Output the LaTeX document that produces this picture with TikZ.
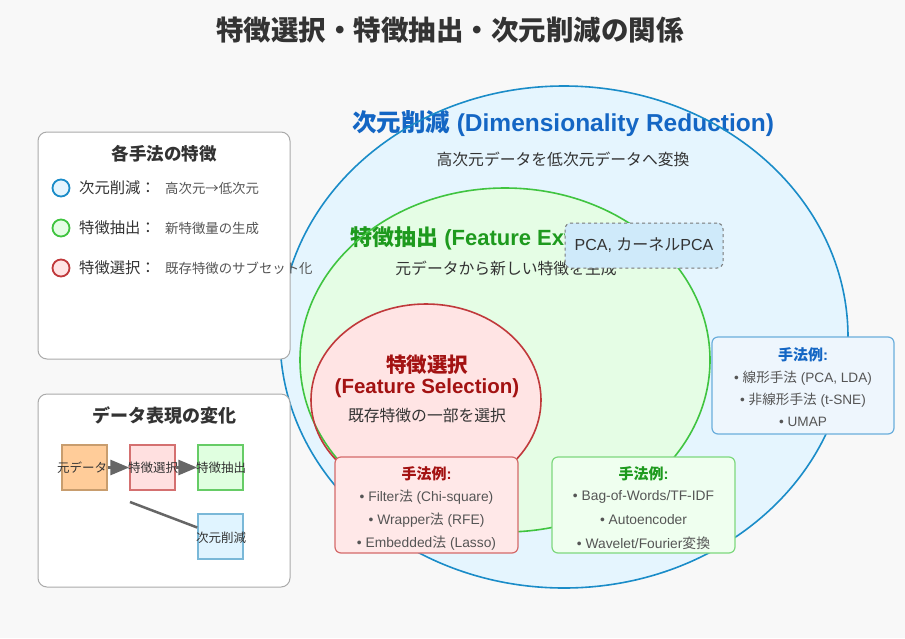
\documentclass[tikz,border=0pt]{standalone}
\usepackage{fontspec}
\setmainfont{Noto Sans CJK JP}
\newfontfamily\lat{Liberation Sans}
\usetikzlibrary{arrows.meta}
\definecolor{bg}{HTML}{F8F8F8}
\definecolor{titlec}{HTML}{333333}
\definecolor{dark}{HTML}{333333}
\definecolor{graytext}{HTML}{555555}
\definecolor{bluestroke}{HTML}{1A8CC8}
\definecolor{bluefill}{HTML}{E5F5FE}
\definecolor{greenstroke}{HTML}{40C440}
\definecolor{greenfill}{HTML}{E5FDE5}
\definecolor{redstroke}{HTML}{C0393B}
\definecolor{redfill}{HTML}{FFE4E4}
\definecolor{bluetitle}{HTML}{1466C4}
\definecolor{greentitle}{HTML}{1E9A1E}
\definecolor{redtitle}{HTML}{A31212}
\definecolor{pcafill}{HTML}{CFEAFA}
\definecolor{pcaborder}{HTML}{777777}
\definecolor{bboxfill}{HTML}{EEF6FD}
\definecolor{bboxborder}{HTML}{6AAEDC}
\definecolor{rboxfill}{HTML}{FFE8E8}
\definecolor{rboxborder}{HTML}{D46A6A}
\definecolor{gboxfill}{HTML}{EFFFEF}
\definecolor{gboxborder}{HTML}{7ED87E}
\definecolor{panelborder}{HTML}{AAAAAA}
\definecolor{orfill}{HTML}{FFCC99}
\definecolor{orborder}{HTML}{C89D6E}
\definecolor{sredfill}{HTML}{FFE0E0}
\definecolor{sredborder}{HTML}{D47070}
\definecolor{sgreenfill}{HTML}{E0FFE0}
\definecolor{sgreenborder}{HTML}{66CC66}
\definecolor{sbluefill}{HTML}{E0F4FF}
\definecolor{sblueborder}{HTML}{7AB8D8}
\definecolor{arrowc}{HTML}{666666}
\tikzset{
  txt/.style={inner sep=0pt, anchor=center},
  fs/.style={font=\fontsize{#1}{#1}\selectfont},
  fsb/.style={font=\bfseries\fontsize{#1}{#1}\selectfont},
  panel/.style={draw=panelborder, fill=white, rounded corners=9pt, line width=1pt, inner sep=0pt},
  exbox/.style={rounded corners=6pt, line width=1.2pt, inner sep=0pt, minimum width=183pt, minimum height=96pt},
  smallbox/.style={line width=1.5pt, inner sep=0pt, minimum width=45pt, minimum height=45pt},
  legcircle/.style={circle, line width=1.8pt, inner sep=0pt, minimum size=17pt},
  flowarrow/.style={draw=arrowc, line width=3pt, -{Triangle[length=19pt,width=15pt]}},
}
\begin{document}
\begin{tikzpicture}[x=1pt,y=-1pt]
\fill[bg] (0,0) rectangle (905,638);
\useasboundingbox (0,0) rectangle (905,638);

% title
\node[txt, fsb=27.5, text=titlec] (title) at (450,30) {特徴選択・特徴抽出・次元削減の関係};

% ellipse fills
\fill[bluefill] (564,337) ellipse [x radius=284, y radius=251];
\fill[greenfill] (505,360) ellipse [x radius=205, y radius=172];
\fill[redfill] (426,400) ellipse [x radius=115, y radius=96];

% ellipse texts
\node[txt, fsb=24.5, text=bluetitle] (drT) at (563,124) {次元削減{\lat\ (Dimensionality Reduction)}};
\node[txt, fs=15.8, text=dark] (drS) at (563,159) {高次元データを低次元データへ変換};
\node[txt, fsb=22, anchor=west, text=greentitle] (feT) at (350,238) {特徴抽出{\lat\ (Feature Extraction)}};
\node[txt, fs=15.8, text=dark] (feS) at (506,268) {元データから新しい特徴を生成};
\node[txt, fsb=20.5, text=redtitle] (fsT1) at (427,365) {特徴選択};
\node[txt, fsb=20.5, text=redtitle] (fsT2) at (427,388) {\lat (Feature Selection)};
\node[txt, fs=15.8, text=dark] (fsS) at (427,416) {既存特徴の一部を選択};

% ellipse strokes
\draw[bluestroke, line width=1.6pt] (564,337) ellipse [x radius=284, y radius=251];
\draw[greenstroke, line width=1.6pt] (505,360) ellipse [x radius=205, y radius=172];
\draw[redstroke, line width=1.6pt] (426,400) ellipse [x radius=115, y radius=96];

% PCA box
\node[draw=pcaborder, dashed, fill=pcafill, rounded corners=6pt, line width=1pt, inner sep=0pt,
      minimum width=158pt, minimum height=45pt] (pca) at (644,245.5) {};
\node[txt, fs=16, text=dark] (pcaT) at (pca.center) {{\lat PCA, }カーネル{\lat PCA}};

% example boxes
\node[exbox, draw=bboxborder, fill=bboxfill, minimum width=182pt, minimum height=97pt] (bex) at (803,385.5) {};
\node[txt, fsb=15, text=bluetitle] (bexT) at (803,355) {手法例{\lat :}};
\node[txt, fs=13.6, text=graytext] (bex1) at (803,378) {{\lat • }線形手法{\lat\ (PCA, LDA)}};
\node[txt, fs=13.6, text=graytext] (bex2) at (803,400) {{\lat • }非線形手法{\lat\ (t-SNE)}};
\node[txt, fs=13.6, text=graytext] (bex3) at (803,422) {\lat • UMAP};

\node[exbox, draw=rboxborder, fill=rboxfill] (rex) at (426.5,505) {};
\node[txt, fsb=15, text=redtitle] (rexT) at (426.5,474) {手法例{\lat :}};
\node[txt, fs=13.8, text=graytext] (rex1) at (426.5,497) {{\lat • Filter}法{\lat\ (Chi-square)}};
\node[txt, fs=13.8, text=graytext] (rex2) at (426.5,520) {{\lat • Wrapper}法{\lat\ (RFE)}};
\node[txt, fs=13.8, text=graytext] (rex3) at (426.5,543) {{\lat • Embedded}法{\lat\ (Lasso)}};

\node[exbox, draw=gboxborder, fill=gboxfill] (gex) at (643.5,505) {};
\node[txt, fsb=15, text=greentitle] (gexT) at (643.5,474) {手法例{\lat :}};
\node[txt, fs=13.8, text=graytext] (gex1) at (643.5,497) {\lat • Bag-of-Words/TF-IDF};
\node[txt, fs=13.8, text=graytext] (gex2) at (643.5,520) {\lat • Autoencoder};
\node[txt, fs=13.8, text=graytext] (gex3) at (643.5,543) {{\lat • Wavelet/Fourier}変換};

% legend panel
\node[panel, minimum width=252pt, minimum height=227pt] (leg) at (164,245.5) {};
\node[txt, fsb=17.5, text=titlec] (legT) at (164,154) {各手法の特徴};
\node[legcircle, draw=bluestroke, fill=bluefill] (c1) at (61,188) {};
\node[legcircle, draw=greenstroke, fill=greenfill] (c2) at (61,228) {};
\node[legcircle, draw=redstroke, fill=redfill] (c3) at (61,268) {};
\node[txt, anchor=west, fs=15.3, text=dark] (l1) at (79,188) {次元削減：};
\node[txt, anchor=west, fs=15.3, text=dark] (l2) at (79,228) {特徴抽出：};
\node[txt, anchor=west, fs=15.3, text=dark] (l3) at (79,268) {特徴選択：};
\node[txt, anchor=west, fs=13.4, text=graytext] (d1) at (165,188) {高次元→低次元};
\node[txt, anchor=west, fs=13.4, text=graytext] (d2) at (165,228) {新特徴量の生成};
\node[txt, anchor=west, fs=13.4, text=graytext] (d3) at (165,268) {既存特徴のサブセット化};

% data representation panel
\node[panel, minimum width=252pt, minimum height=193pt] (dp) at (164,490.5) {};
\node[txt, fsb=18, text=titlec] (dpT) at (164,416) {データ表現の変化};
\node[smallbox, draw=orborder, fill=orfill] (bo) at (84.5,467.5) {};
\node[smallbox, draw=sredborder, fill=sredfill] (bs) at (152.5,467.5) {};
\node[smallbox, draw=sgreenborder, fill=sgreenfill] (be) at (220.5,467.5) {};
\node[smallbox, draw=sblueborder, fill=sbluefill] (bd) at (220.5,536.5) {};
\node[txt, fs=12.5, text=dark] (boT) at (82,467.5) {元データ};
\node[txt, fs=12.5, text=dark] (bsT) at (153,467.5) {特徴選択};
\node[txt, fs=12.5, text=dark] (beT) at (221,467.5) {特徴抽出};
\node[txt, fs=12.5, text=dark] (bdT) at (221,537.5) {次元削減};
\draw[flowarrow] (bo.east) -- (bs.west);
\draw[flowarrow] (bs.east) -- (be.west);
\coordinate (lineStart) at (130,502);
\draw[draw=arrowc, line width=2.5pt] (lineStart) -- ([yshift=9pt]bd.west);
\end{tikzpicture}
\end{document}
